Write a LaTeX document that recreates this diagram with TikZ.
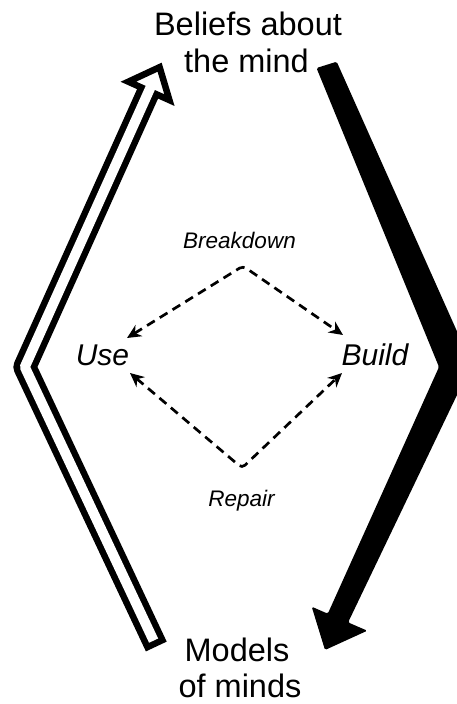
\documentclass[tikz,border=0pt]{standalone}
\usepackage{fontspec}
\setmainfont{Liberation Sans}
\usetikzlibrary{arrows.meta}
\begin{document}
\begin{tikzpicture}[x=1pt,y=-1pt,
  bigtext/.style={font=\fontsize{32.5}{37}\selectfont, inner sep=0pt, anchor=base},
  midtext/.style={font=\fontsize{30}{34}\selectfont\itshape, inner sep=0pt, anchor=base},
  smalltext/.style={font=\fontsize{22.5}{26}\selectfont\itshape, inner sep=0pt, anchor=base},
  dashlink/.style={line width=2.7pt, dash pattern=on 9pt off 6pt, rounded corners=4pt,
    {Stealth[length=14pt,width=13pt]}-{Stealth[length=14pt,width=13pt]}},
  shaftblack/.style={line width=23pt, line join=round, line cap=butt},
  shaftwhite/.style={white, line width=10pt, line join=round, line cap=butt},
  headhollow/.style={line width=6.5pt, fill=white, line join=miter},
  solidarrow/.style={fill=black, rounded corners=1.5pt}]
\path[use as bounding box] (0,0) rectangle (457,704);

% texts
\node[bigtext] (beliefs1) at (248,35) {Beliefs about};
\node[bigtext] (beliefs2) at (246.5,72) {the mind};
\node[bigtext] (models1) at (237,661) {Models};
\node[bigtext] (models2) at (240,697) {of minds};
\node[midtext] (use) at (102.5,365) {Use};
\node[midtext] (build) at (375,365) {Build};
\node[smalltext] (breakdown) at (239.5,248) {Breakdown};
\node[smalltext] (repair) at (241.5,506) {Repair};

% dashed cycle
\coordinate (topv) at (243,266);
\coordinate (botv) at (242,468);
\coordinate (useA) at (127,338);
\coordinate (buildA) at (343,335);
\coordinate (useB) at (130,373);
\coordinate (buildB) at (342,373);
\draw[dashlink] (useA) -- (topv) -- (buildA);
\draw[dashlink] (useB) -- (botv) -- (buildB);

% hollow arrow (left)
\coordinate (Cv) at (24.8,367);
\coordinate (Hb) at (148.9,90.9);
\coordinate (Hw) at (152.7,82.5);
\coordinate (Be) at (156.3,646.5);
\coordinate (Bw) at (153.6,640.6);
\coordinate (HL) at (128.4,81.7);
\coordinate (HR) at (169.4,100.1);
\coordinate (HT) at (159.6,67.2);
\draw[shaftblack] (Be) -- (Cv) -- (Hb);
\draw[headhollow] (HL) -- (HT) -- (HR) -- cycle;
\draw[shaftwhite] (Bw) -- (Cv) -- (Hw);

% solid arrow (right)
\begin{scope}
\clip (0,0) rectangle (457,704);
\coordinate (r1) at (316.5,68);
\coordinate (r2) at (336.7,61.7);
\coordinate (r3) at (471.7,364.3);
\coordinate (r4) at (348.1,622.4);
\coordinate (r5) at (367.3,630.7);
\coordinate (r6) at (325,650);
\coordinate (r7) at (311.7,606.7);
\coordinate (r8) at (327.8,613.7);
\coordinate (r9) at (439,367);
\fill[solidarrow] (r1) -- (r2) -- (r3) -- (r4) -- (r5) -- (r6) -- (r7) -- (r8) -- (r9) -- cycle;
\end{scope}
\end{tikzpicture}
\end{document}
